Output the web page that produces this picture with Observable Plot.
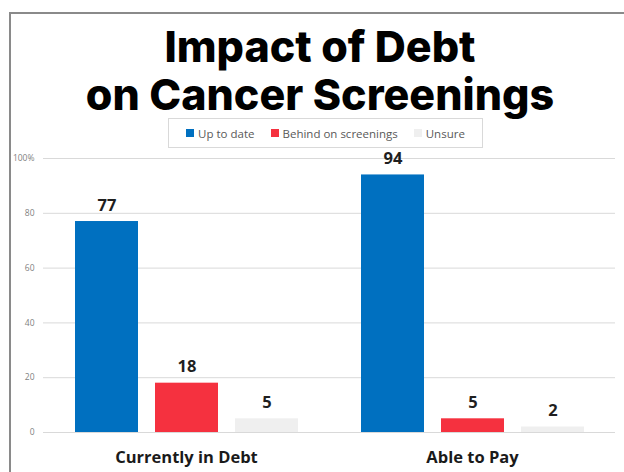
<!DOCTYPE html>
<html>
<head>
<meta charset="utf-8">
<script src="https://cdn.jsdelivr.net/npm/d3@7"></script>
<script src="https://cdn.jsdelivr.net/npm/@observablehq/plot@0.6"></script>
<style>
  html, body { margin: 0; padding: 0; background: #fff; }
  #wrap { position: relative; width: 624px; height: 472px; overflow: hidden; background: #fff; }
  #frame { position: absolute; left: 9px; top: 12px; width: 640px; height: 480px; border-left: 2px solid #8a8a8a; border-top: 2px solid #8a8a8a; box-sizing: border-box; }
  #title { position: absolute; left: 0; top: 22px; width: 640px; text-align: center; font-family: Inter, "Open Sans", sans-serif; font-weight: 800; font-size: 43px; line-height: 48px; color: #000; letter-spacing: 0px; }
  #legend { position: absolute; left: 168px; top: 118px; width: 315px; height: 30px; border: 1px solid #d9d9d9; box-sizing: border-box; display: flex; align-items: center; justify-content: center; gap: 16px; font-family: "Open Sans", sans-serif; font-size: 11.5px; color: #595959; }
  #legend span.item { display: inline-flex; align-items: center; }
  #legend span.sw { display: inline-block; width: 8px; height: 8px; margin-right: 4px; }
  #chart { position: absolute; left: 0; top: 150px; }
  #chart svg { overflow: visible; }
</style>
</head>
<body>
<div id="wrap">
  <div id="frame"></div>
  <div id="title">Impact of Debt<br>on Cancer Screenings</div>
  <div id="legend"></div>
  <div id="chart"></div>
</div>
<script>
const groups = ["Currently in Debt", "Able to Pay"];
const series = ["Up to date", "Behind on screenings", "Unsure"];
const colors = ["#0070c0", "#f5313f", "#efefef"];
const debtValues = [77, 18, 5];
const payValues = [94, 5, 2];
const yTicks = [0, 20, 40, 60, 80, 100];

const data = [];
series.forEach((s, i) => data.push({group: groups[0], series: s, value: debtValues[i]}));
series.forEach((s, i) => data.push({group: groups[1], series: s, value: payValues[i]}));

// legend
const legend = document.getElementById("legend");
series.forEach((s, i) => {
  const item = document.createElement("span");
  item.className = "item";
  const sw = document.createElement("span");
  sw.className = "sw";
  sw.style.background = colors[i];
  item.appendChild(sw);
  item.appendChild(document.createTextNode(s));
  legend.appendChild(item);
});

const chart = Plot.plot({
  width: 624,
  height: 322,
  marginTop: 8,
  marginBottom: 40,
  marginLeft: 42,
  marginRight: 9,
  style: {fontFamily: "'Open Sans', sans-serif", background: "transparent", overflow: "visible"},
  fx: {domain: groups, padding: 0, label: null},
  x: {domain: series, paddingInner: 0.2125, paddingOuter: 0.39, axis: null},
  y: {domain: [0, 100], label: null},
  color: {domain: series, range: colors},
  marks: [
    Plot.gridY(yTicks, {stroke: "#d9d9d9", strokeOpacity: 1}),
    Plot.axisY({ticks: yTicks, tickSize: 0, tickPadding: 9, fontSize: 8.5, fill: "#7f7f7f", label: null,
      tickFormat: d => d === 100 ? "100%" : String(d)}),
    Plot.axisFx({anchor: "bottom", tickSize: 0, tickPadding: 19, fontSize: 16.5, fontWeight: 700, fill: "#1a1a1a", label: null}),
    Plot.barY(data, {fx: "group", x: "series", y: "value", fill: "series"}),
    Plot.text(data, {fx: "group", x: "series", y: "value", text: d => String(d.value), dy: -16,
      fontSize: 16.5, fontWeight: 700, fill: "#1f1f1f"})
  ]
});
document.getElementById("chart").appendChild(chart);
</script>
</body>
</html>
